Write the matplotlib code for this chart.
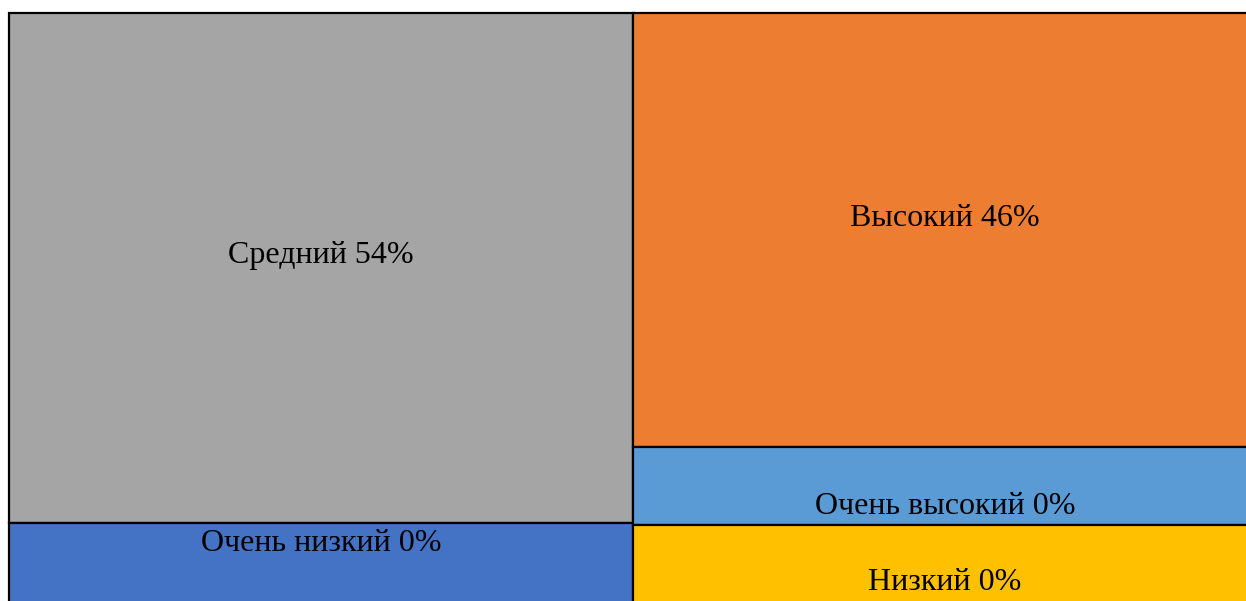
"""
Treemap of levels (Excel-style), recreated with matplotlib.
"""

import matplotlib
matplotlib.use('Agg')
import matplotlib.pyplot as plt
from matplotlib.patches import Rectangle


labels = ['Средний', 'Очень низкий', 'Высокий', 'Очень высокий', 'Низкий']
percents = [54, 0, 46, 0, 0]
# tile weights; the 0% tiles still get a small area in the original
sizes = [54, 8.5, 46, 8.25, 8.25]
columns = [[0, 1], [2, 3, 4]]  # which tiles stack in each column

colors = ['#A5A5A5', '#4472C4', '#ED7D31', '#5B9BD5', '#FFC000']
# vertical nudge of each label from the tile centre (points, baseline)
label_dy = [3.6, 8.6, 2.9, -20.0, -18.7]


def layout(sizes, columns):
    total = sum(sizes)
    rects = [None] * len(sizes)
    x = 0.0
    for col in columns:
        csum = sum(sizes[i] for i in col)
        w = csum / total
        y = 1.0
        for i in col:
            h = sizes[i] / csum
            y -= h
            rects[i] = (x, y, w, h)
        x += w
    return rects


def main():
    W, H = 1246, 601
    fig = plt.figure(figsize=(W / 100, H / 100), dpi=100)
    # the original image is cropped on the right and bottom
    left, right, top, bottom = 9, 1257, 13, 603
    ax = fig.add_axes([left / W, (H - bottom) / H,
                       (right - left) / W, (bottom - top) / H])
    ax.set_xlim(0, 1)
    ax.set_ylim(0, 1)
    ax.axis('off')

    rects = layout(sizes, columns)
    for i, (x, y, w, h) in enumerate(rects):
        ax.add_patch(Rectangle((x, y), w, h, facecolor=colors[i],
                               edgecolor='black', linewidth=1.6,
                               clip_on=False))
        ax.annotate(f'{labels[i]} {percents[i]}%',
                    xy=(x + w / 2, y + h / 2), xytext=(0, label_dy[i]),
                    textcoords='offset points', ha='center', va='baseline',
                    fontsize=23, family='Liberation Serif', color='black')

    fig.savefig('out.png', dpi=100)


if __name__ == '__main__':
    main()
